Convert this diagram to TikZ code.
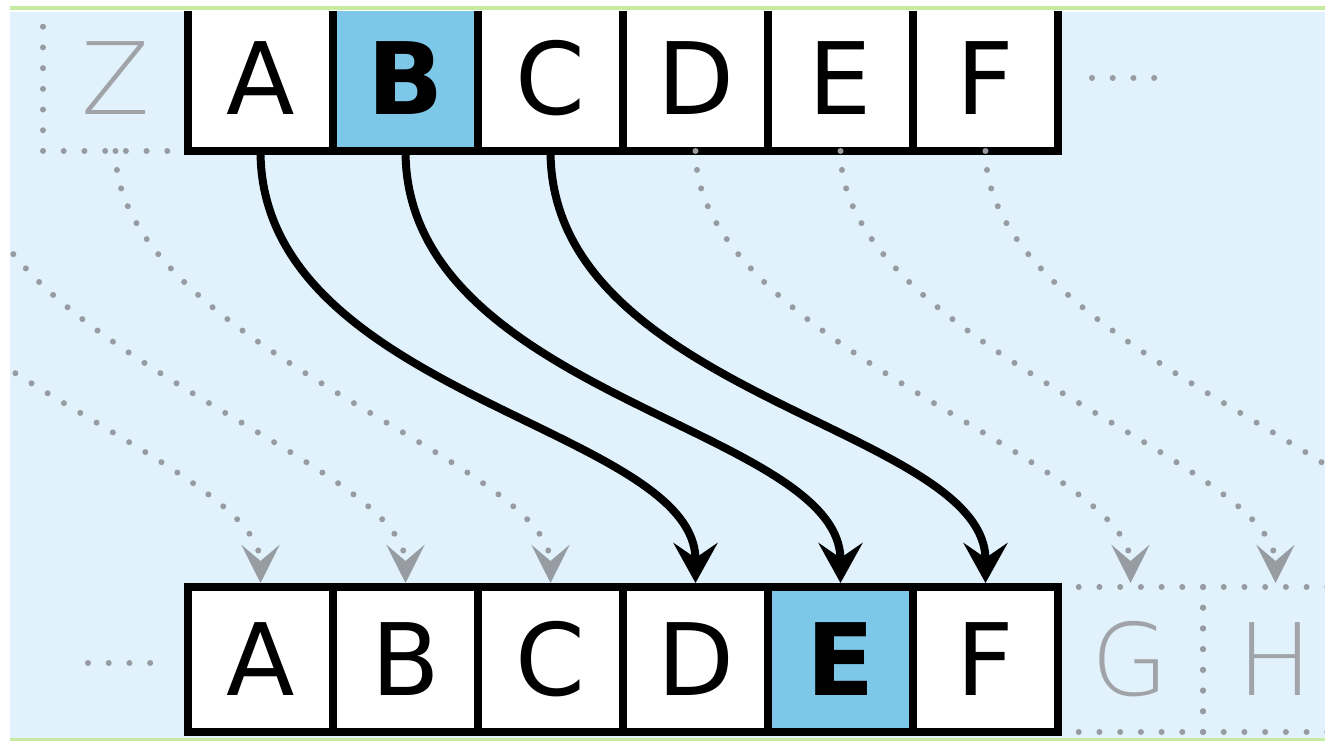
\documentclass[tikz,border=0pt]{standalone}
\usepackage{fontspec}
\setmainfont{DejaVu Sans}
\newfontfamily\ghostfont{DejaVuSans-ExtraLight.ttf}
\usetikzlibrary{positioning,arrows.meta}
\definecolor{sky}{RGB}{225,242,252}
\definecolor{key-blue}{RGB}{125,200,232}
\definecolor{ghost-gray}{RGB}{150,156,162}
\definecolor{ghost-text}{RGB}{160,164,168}
\definecolor{edge-green}{RGB}{197,235,160}
\tikzset{
    letter-cell/.style = {draw=black, fill=white, line width=3.75pt, rectangle, minimum size=72.5pt, inner sep=0pt, outer sep=0pt, font=\fontsize{50}{50}\selectfont},
    letter-cell-key/.style = {letter-cell, fill=key-blue, font=\fontsize{50}{50}\selectfont\bfseries},
    ghost-cell/.style = {draw=ghost-gray, line width=3pt, line cap=round, dash pattern=on 0pt off 10.357pt, rectangle, minimum size=72.5pt, inner sep=0pt, outer sep=0pt, text=ghost-text, font=\fontsize{50}{50}\selectfont\ghostfont},
    ghost-dots/.style = {draw=ghost-gray, line width=3pt, line cap=round, dash pattern=on 0pt off 10.357pt},
    shift-arrow/.style = {draw=black, line width=4pt, shorten >=2pt, -{Stealth[length=20pt, width=22pt, inset=7.5pt]}},
    shift-ghost/.style = {ghost-dots, dash pattern=on 0pt off 9.5pt, shorten >=2pt, -{Stealth[length=19pt, width=19pt, inset=8pt]}},
}

\begin{document}
\begin{tikzpicture}[x=0.5pt, y=0.5pt]
\useasboundingbox (0,0) rectangle (1325,743);
\fill[white] (0,0) rectangle (1325,743);
\begin{scope}
\clip (10,5) rectangle (1325,731);
\fill[sky] (10,5) rectangle (1325,731);

% plain alphabet
\node[ghost-cell] (ghost-z) at (115.5,664.5) {Z};
\node[letter-cell, right=0pt of ghost-z] (plain-a) {A};
\node[letter-cell-key, right=0pt of plain-a] (plain-b) {B};
\node[letter-cell, right=0pt of plain-b] (plain-c) {C};
\node[letter-cell, right=0pt of plain-c] (plain-d) {D};
\node[letter-cell, right=0pt of plain-d] (plain-e) {E};
\node[letter-cell, right=0pt of plain-e] (plain-f) {F};
\draw[ghost-dots] (1092,665) -- (1156,665);

% cipher alphabet
\node[ghost-cell] (ghost-h) at (1275.5,83.5) {H};
\node[ghost-cell, left=0pt of ghost-h] (ghost-g) {G};
\node[letter-cell, left=0pt of ghost-g] (cipher-f) {F};
\node[letter-cell-key, left=0pt of cipher-f] (cipher-e) {E};
\node[letter-cell, left=0pt of cipher-e] (cipher-d) {D};
\node[letter-cell, left=0pt of cipher-d] (cipher-c) {C};
\node[letter-cell, left=0pt of cipher-c] (cipher-b) {B};
\node[letter-cell, left=0pt of cipher-b] (cipher-a) {A};
\draw[ghost-dots] (88,80) -- (152,80);

\coordinate (ghost-y) at ([xshift=-72.5pt]ghost-z.south);
\coordinate (ghost-x) at ([xshift=-145pt]ghost-z.south);
\coordinate (ghost-i) at ([xshift=72.5pt]ghost-h.north);

% shift by three
\draw[shift-ghost] (ghost-x) .. controls +(0,-190) and +(0,125) .. (cipher-a.north);
\draw[shift-ghost] (ghost-y) .. controls +(0,-190) and +(0,125) .. (cipher-b.north);
\draw[shift-ghost] (ghost-z.south) .. controls +(0,-190) and +(0,125) .. (cipher-c.north);
\draw[shift-ghost] (plain-d.south) .. controls +(0,-190) and +(0,125) .. (ghost-g.north);
\draw[shift-ghost] (plain-e.south) .. controls +(0,-190) and +(0,125) .. (ghost-h.north);
\draw[shift-ghost] (plain-f.south) .. controls +(0,-190) and +(0,125) .. (ghost-i);
\draw[shift-arrow] (plain-a.south) .. controls +(0,-245) and +(0,160) .. (cipher-d.north);
\draw[shift-arrow] (plain-b.south) .. controls +(0,-245) and +(0,160) .. (cipher-e.north);
\draw[shift-arrow] (plain-c.south) .. controls +(0,-245) and +(0,160) .. (cipher-f.north);
\end{scope}
\draw[edge-green, line width=2pt] (10,735) -- (1325,735);
\draw[edge-green, line width=1.5pt] (10,3.5) -- (1325,3.5);
\end{tikzpicture}
\end{document}
